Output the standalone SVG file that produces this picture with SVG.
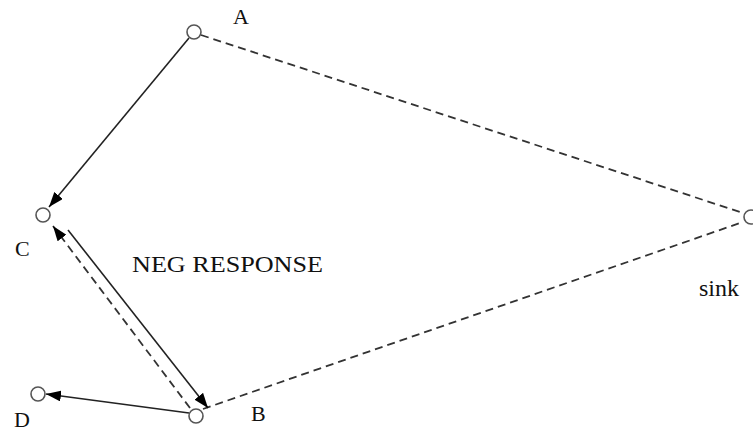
<svg xmlns="http://www.w3.org/2000/svg" width="753" height="432" viewBox="0 0 753 432">
<style>
.node{fill:none;stroke:#555;stroke-width:1.6}
.lbl{font-family:"Liberation Serif","Times New Roman",serif;fill:#111}
.solid{stroke:#222;stroke-width:1.6;fill:none}
.dash{stroke:#333;stroke-width:1.8;fill:none;stroke-dasharray:8 5}
</style>
<defs>
<marker id="ah" viewBox="0 0 15 11" refX="15" refY="5.5" markerWidth="15" markerHeight="11" markerUnits="userSpaceOnUse" orient="auto">
<path d="M0,0 L15,5.5 L0,11 z" fill="#000"/>
</marker>
</defs>
<rect width="753" height="432" fill="#fff"/>
<g id="connectors">
<line class="dash" x1="201" y1="35" x2="743" y2="213"/>
<line class="dash" x1="203" y1="409" x2="743" y2="222"/>
<line class="solid" x1="189" y1="38" x2="49" y2="207" marker-end="url(#ah)"/>
<line class="solid" x1="68" y1="230" x2="208" y2="408" marker-end="url(#ah)"/>
<line class="dash" x1="190" y1="408" x2="53" y2="226" marker-end="url(#ah)"/>
<line class="solid" x1="189" y1="413" x2="46" y2="394" marker-end="url(#ah)"/>
</g>
<g id="A"><circle class="node" cx="194" cy="32" r="7"/><text class="lbl" x="233" y="24" font-size="22">A</text></g>
<g id="C"><circle class="node" cx="43" cy="215" r="7"/><text class="lbl" x="15" y="256" font-size="22">C</text></g>
<g id="D"><circle class="node" cx="38" cy="394" r="7"/><text class="lbl" x="14" y="427" font-size="22">D</text></g>
<g id="B"><circle class="node" cx="196" cy="416" r="7"/><text class="lbl" x="251" y="421" font-size="22">B</text></g>
<g id="sink"><circle class="node" cx="751" cy="217" r="7"/><text class="lbl" x="699" y="296" font-size="24">sink</text></g>
<text class="lbl" x="132" y="272" font-size="23" textLength="191" lengthAdjust="spacingAndGlyphs">NEG RESPONSE</text>
</svg>
